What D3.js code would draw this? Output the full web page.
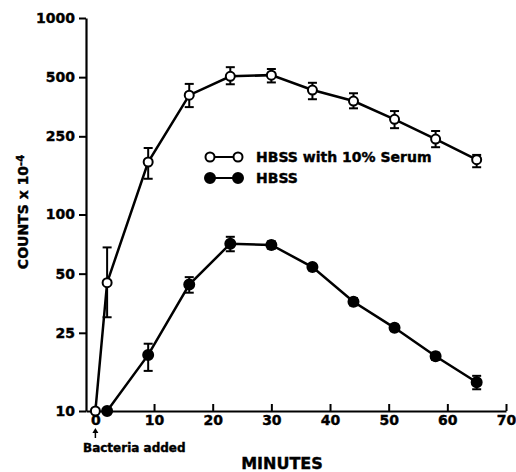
<!DOCTYPE html>
<html>
<head>
<meta charset="utf-8">
<script src="https://cdn.jsdelivr.net/npm/d3@7"></script>
<style>
  body { margin: 0; background: #fff; }
  text { font-family: "DejaVu Sans", sans-serif; font-weight: bold; fill: #000; stroke: #000; stroke-width: 0.4px; }
</style>
</head>
<body>
<div id="chart"></div>
<script>
// Minutes after bacteria added
const serumMinutes = [0, 2, 9, 16, 23, 30, 37, 44, 51, 58, 65];
const serumCounts  = [10, 45, 185, 405, 505, 512, 430, 378, 305, 242, 190];
const serumLow     = [10, 30, 152, 352, 460, 470, 386, 347, 275, 220, 174];
const serumHigh    = [10, 68, 218, 462, 562, 550, 468, 414, 336, 266, 201];

const hbssMinutes = [2, 9, 16, 23, 30, 37, 44, 51, 58, 65];
const hbssCounts  = [10, 19.3, 44, 71, 70, 54, 36, 26.5, 19, 14];
const hbssLow     = [10, 16, 40, 65, 67, 52, 34.5, 25.5, 18.2, 12.9];
const hbssHigh    = [10, 22, 48, 77, 73, 56, 37.5, 27.5, 19.8, 15.1];

const xTicks = [0, 10, 20, 30, 40, 50, 60, 70];
const yTicks = [10, 25, 50, 100, 250, 500, 1000];
const legendLabels = ["HBSS with 10% Serum", "HBSS"];

const width = 516, height = 472;

const svg = d3.select("#chart").append("svg")
    .attr("width", width)
    .attr("height", height);

const x = d3.scaleLinear().domain([-1.6, 70]).range([86, 506]);
const y = d3.scaleLog().domain([10, 1000]).range([411, 18]);

// X axis, ticks pointing up into the plot
const xAxis = svg.append("g")
    .attr("transform", `translate(0, ${y(10)})`)
    .call(d3.axisBottom(x).tickValues(xTicks).tickSizeInner(-7).tickSizeOuter(0).tickPadding(4).tickFormat(d3.format("d")));
xAxis.select(".domain").attr("stroke-width", 2.2);
xAxis.selectAll(".tick line").attr("stroke-width", 2);
xAxis.selectAll("text").style("font-size", "14px").attr("dy", "0.71em");

// Y axis
const yAxis = svg.append("g")
    .attr("transform", `translate(${x(-1.6)}, 0)`)
    .call(d3.axisLeft(y).tickValues(yTicks).tickSizeInner(7).tickSizeOuter(0).tickPadding(4).tickFormat(d3.format("d")));
yAxis.select(".domain").attr("stroke-width", 2.2);
yAxis.selectAll(".tick line").attr("stroke-width", 2);
yAxis.selectAll("text").style("font-size", "14px");

// Axis titles
svg.append("text")
    .attr("x", 282).attr("y", 469)
    .attr("text-anchor", "middle")
    .style("font-size", "16px")
    .text("MINUTES");

const yTitle = svg.append("text")
    .attr("transform", "translate(28, 212) rotate(-90)")
    .attr("text-anchor", "middle")
    .style("font-size", "14px");
yTitle.append("tspan").text("COUNTS x 10");
yTitle.append("tspan").attr("dy", "-0.45em").style("font-size", "10px").text("-4");

// Bacteria added marker
svg.append("line")
    .attr("x1", x(0)).attr("x2", x(0))
    .attr("y1", 438).attr("y2", 431)
    .attr("stroke", "#000").attr("stroke-width", 1.5);
svg.append("path")
    .attr("d", `M${x(0) - 3},${433} L${x(0)},${428} L${x(0) + 3},${433} Z`)
    .attr("fill", "#000");
svg.append("text")
    .attr("x", 83).attr("y", 452)
    .style("font-size", "12px")
    .text("Bacteria added");

function drawSeries(minutes, counts, low, high, filled) {
    const pts = minutes.map((m, i) => ({m, c: counts[i], lo: low[i], hi: high[i]}));
    const g = svg.append("g");

    g.append("path")
        .datum(pts)
        .attr("fill", "none")
        .attr("stroke", "#000")
        .attr("stroke-width", 2.5)
        .attr("d", d3.line().x(d => x(d.m)).y(d => y(d.c)));

    const err = g.selectAll(".err").data(pts.filter(d => d.hi > d.lo)).enter().append("g");
    err.append("line")
        .attr("x1", d => x(d.m)).attr("x2", d => x(d.m))
        .attr("y1", d => y(d.lo)).attr("y2", d => y(d.hi))
        .attr("stroke", "#000").attr("stroke-width", 2);
    [d => d.lo, d => d.hi].forEach(f => {
        err.append("line")
            .attr("x1", d => x(d.m) - 4.5).attr("x2", d => x(d.m) + 4.5)
            .attr("y1", d => y(f(d))).attr("y2", d => y(f(d)))
            .attr("stroke", "#000").attr("stroke-width", 2);
    });

    g.selectAll("circle").data(pts).enter().append("circle")
        .attr("cx", d => x(d.m)).attr("cy", d => y(d.c))
        .attr("r", filled ? 5 : 4.5)
        .attr("fill", filled ? "#000" : "#fff")
        .attr("stroke", "#000").attr("stroke-width", 2);
}

drawSeries(serumMinutes, serumCounts, serumLow, serumHigh, false);
drawSeries(hbssMinutes, hbssCounts, hbssLow, hbssHigh, true);

// Legend
const legend = svg.append("g");
legendLabels.forEach((label, i) => {
    const ly = 157 + i * 21;
    legend.append("line")
        .attr("x1", 210).attr("x2", 238).attr("y1", ly).attr("y2", ly)
        .attr("stroke", "#000").attr("stroke-width", 2);
    [210, 238].forEach(cx => {
        legend.append("circle")
            .attr("cx", cx).attr("cy", ly).attr("r", i === 0 ? 4.5 : 5)
            .attr("fill", i === 0 ? "#fff" : "#000")
            .attr("stroke", "#000").attr("stroke-width", 2);
    });
    legend.append("text")
        .attr("x", 256).attr("y", ly)
        .attr("dy", "0.36em")
        .style("font-size", "14px")
        .text(label);
});
</script>
</body>
</html>
